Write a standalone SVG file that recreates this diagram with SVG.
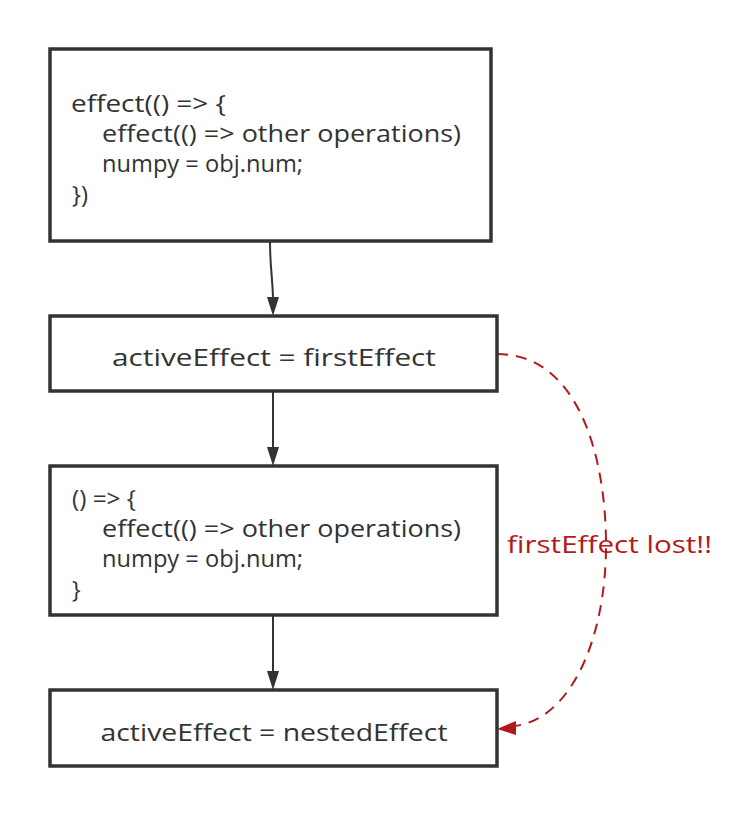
<svg xmlns="http://www.w3.org/2000/svg" width="742" height="816" viewBox="0 0 742 816">
<style>
.box{fill:#fff;stroke:#333;stroke-width:3.5}
.t{font-family:"Comic Sans MS","Open Sans","Liberation Sans",sans-serif;font-size:23px;fill:#333}
.red{fill:#b3191b}
.edge{fill:none;stroke:#333;stroke-width:2}
.dash{fill:none;stroke:#b3191b;stroke-width:2;stroke-dasharray:11 8}
</style>
<rect width="742" height="816" fill="#fff"/>
<g id="connectors">
<path class="edge" d="M270,241 C270,268 273,282 273,300"/>
<path d="M273,316 L267,297 L279,297 z" fill="#333"/>
<path class="edge" d="M273,391 L273,450"/>
<path d="M273,466 L267,447 L279,447 z" fill="#333"/>
<path class="edge" d="M273,615 L273,674"/>
<path d="M273,690 L267,671 L279,671 z" fill="#333"/>
<path class="dash" d="M497,354 C580,354 606,460 606,545 C606,640 570,720 514,726"/>
<path d="M497,729 L516,721 L516,735 z" fill="#b3191b"/>
</g>
<g id="box1">
<rect class="box" x="50" y="49" width="441" height="192"/>
<text class="t" x="71" y="112" textLength="155" lengthAdjust="spacingAndGlyphs">effect(() =&gt; {</text>
<text class="t" x="102" y="142" textLength="359" lengthAdjust="spacingAndGlyphs">effect(() =&gt; other operations)</text>
<text class="t" x="102" y="172" textLength="201" lengthAdjust="spacingAndGlyphs">numpy = obj.num;</text>
<text class="t" x="72" y="203" textLength="16" lengthAdjust="spacingAndGlyphs">})</text>
</g>
<g id="box2">
<rect class="box" x="50" y="316" width="447" height="75"/>
<text class="t" x="274" y="366" text-anchor="middle" textLength="324" lengthAdjust="spacingAndGlyphs">activeEffect = firstEffect</text>
</g>
<g id="box3">
<rect class="box" x="50" y="466" width="447" height="149"/>
<text class="t" x="72" y="507" textLength="64" lengthAdjust="spacingAndGlyphs">() =&gt; {</text>
<text class="t" x="102" y="537" textLength="359" lengthAdjust="spacingAndGlyphs">effect(() =&gt; other operations)</text>
<text class="t" x="102" y="567" textLength="201" lengthAdjust="spacingAndGlyphs">numpy = obj.num;</text>
<text class="t" x="72" y="598">}</text>
</g>
<g id="box4">
<rect class="box" x="50" y="690" width="447" height="76"/>
<text class="t" x="274" y="741" text-anchor="middle" textLength="347" lengthAdjust="spacingAndGlyphs">activeEffect = nestedEffect</text>
</g>
<g id="label">
<text class="t red" x="609.5" y="553" text-anchor="middle" textLength="205" lengthAdjust="spacingAndGlyphs">firstEffect lost!!</text>
</g>
</svg>
